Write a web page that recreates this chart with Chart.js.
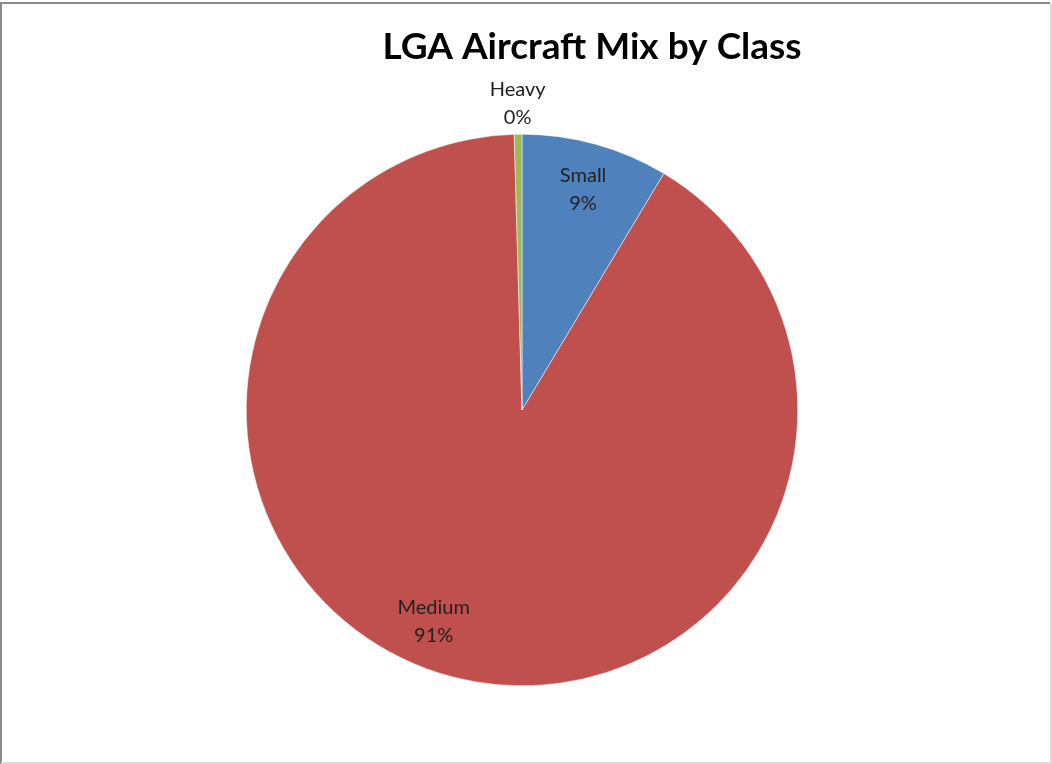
<!DOCTYPE html>
<html>
<head>
<meta charset="utf-8">
<script src="https://cdn.jsdelivr.net/npm/chart.js@4.4.0/dist/chart.umd.min.js"></script>
<style>
  html, body { margin: 0; padding: 0; background: #fff; }
  #wrap { width: 1052px; height: 764px; }
</style>
</head>
<body>
<div id="wrap"><canvas id="chart-mix" width="1052" height="764"></canvas></div>
<script>
const categories = ['Small', 'Medium', 'Heavy'];
const shares = [8.6, 90.95, 0.45];
const colors = ['#4F81BD', '#C0504D', '#9BBB59'];
const chartTitle = 'LGA Aircraft Mix by Class';

// frame around the chart, like the exported picture
const framePlugin = {
    id: 'frame',
    beforeDraw(chart) {
        const ctx = chart.ctx;
        ctx.save();
        ctx.fillStyle = '#fff';
        ctx.fillRect(0, 0, chart.width, chart.height);
        ctx.strokeStyle = '#8a8a8a';
        ctx.lineWidth = 2;
        ctx.beginPath();
        ctx.moveTo(1, chart.height);
        ctx.lineTo(1, 3);
        ctx.lineTo(chart.width - 2, 3);
        ctx.stroke();
        ctx.strokeStyle = '#dcdcdc';
        ctx.beginPath();
        ctx.moveTo(chart.width - 1, 3);
        ctx.lineTo(chart.width - 1, chart.height - 1);
        ctx.lineTo(1, chart.height - 1);
        ctx.stroke();
        ctx.restore();
    }
};

// title + slice labels (category and rounded percent)
const labelPlugin = {
    id: 'sliceLabels',
    afterDraw(chart) {
        const ctx = chart.ctx;
        ctx.save();
        ctx.fillStyle = '#000';
        ctx.textAlign = 'center';
        ctx.textBaseline = 'middle';
        ctx.font = 'bold 37px Lato, "Open Sans", sans-serif';
        ctx.fillText(chartTitle, 592, 47);

        const total = shares.reduce((a, b) => a + b, 0);
        const arcs = chart.getDatasetMeta(0).data;
        ctx.font = '20px Lato, "Open Sans", sans-serif';
        ctx.fillStyle = '#222';
        arcs.forEach((arc, i) => {
            const p = arc.getProps(['x', 'y', 'startAngle', 'endAngle', 'outerRadius']);
            const pct = shares[i] / total * 100;
            let mid = (p.startAngle + p.endAngle) / 2;
            let r = p.outerRadius * 0.83;
            if (pct < 2) {
                r = p.outerRadius * 1.11;
            } else if (pct > 50) {
                mid += 0.14;
            }
            const x = p.x + Math.cos(mid) * r;
            const y = p.y + Math.sin(mid) * r;
            ctx.fillText(categories[i], x, y - 14);
            ctx.fillText(Math.round(pct) + '%', x, y + 14);
        });
        ctx.restore();
    }
};

new Chart(document.getElementById('chart-mix'), {
    type: 'pie',
    data: {
        labels: categories,
        datasets: [{
            data: shares,
            backgroundColor: colors,
            borderColor: '#ffffff',
            borderWidth: 0.5,
        }]
    },
    options: {
        responsive: false,
        animation: false,
        layout: {
            padding: { top: 134, bottom: 78, left: 246, right: 254 }
        },
        plugins: {
            legend: { display: false },
            tooltip: { enabled: false },
            title: { display: false }
        }
    },
    plugins: [framePlugin, labelPlugin]
});
</script>
</body>
</html>
